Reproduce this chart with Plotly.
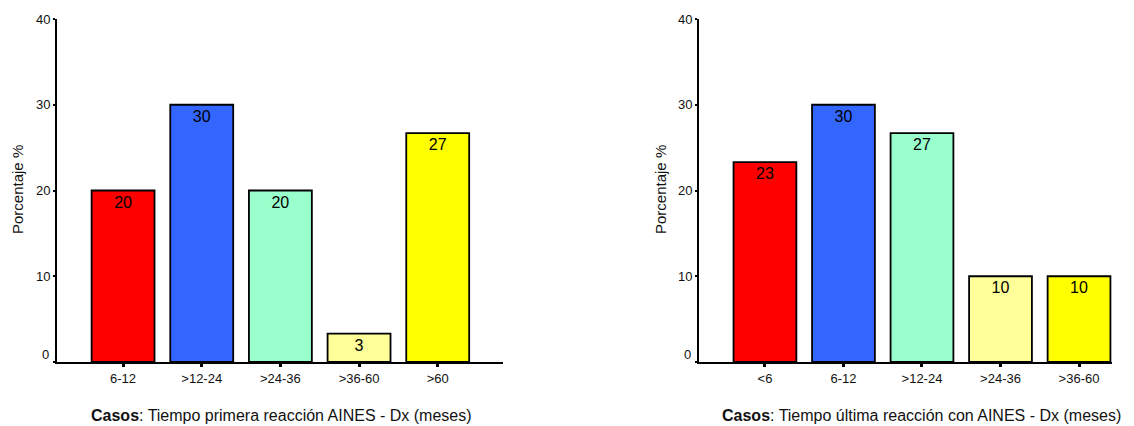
import plotly.graph_objects as go

# Porcentaje de casos por intervalo de tiempo (meses)
cat_primera = ["6-12", ">12-24", ">24-36", ">36-60", ">60"]
pct_primera = [20.0, 30.0, 20.0, 3.3, 26.7]

cat_ultima = ["<6", "6-12", ">12-24", ">24-36", ">36-60"]
pct_ultima = [23.3, 30.0, 26.7, 10.0, 10.0]

colores = ["#FF0000", "#3366FF", "#99FFCC", "#FFFF99", "#FFFF00"]

y_ticks = [0, 10, 20, 30, 40]

titulo_primera = "<b>Casos</b>: Tiempo primera reacción AINES - Dx (meses)"
titulo_ultima = "<b>Casos</b>: Tiempo última reacción con AINES - Dx (meses)"
titulo_y = "Porcentaje %"

FONT = "Arial, 'Liberation Sans', sans-serif"

fig = go.Figure()

for cats, vals, xa, ya in [
    (cat_primera, pct_primera, "x", "y"),
    (cat_ultima, pct_ultima, "x2", "y2"),
]:
    fig.add_trace(go.Bar(
        x=cats, y=vals, xaxis=xa, yaxis=ya,
        marker=dict(color=colores, line=dict(color="black", width=1.8)),
        texttemplate="%{y:.0f}", textposition="inside",
        insidetextanchor="end", textangle=0,
        textfont=dict(family=FONT, size=16, color="black"),
        hoverinfo="skip", showlegend=False,
    ))

y_bottom = (426 - 362) / 426
y_top = (426 - 19) / 426

xaxis_common = dict(
    type="category", showline=True, linecolor="black", linewidth=2,
    ticks="outside", ticklen=3, tickwidth=3, tickcolor="black",
    showgrid=False, zeroline=False, automargin=False,
    tickfont=dict(family=FONT, size=13, color="#111"),
    fixedrange=True,
)
yaxis_common = dict(
    range=[0, 40], tickvals=y_ticks,
    ticktext=["" if v == 0 else str(v) for v in y_ticks],
    showline=True, linecolor="black", linewidth=2,
    ticks="outside", ticklen=2, tickwidth=2, tickcolor="black",
    showgrid=False, zeroline=False, automargin=False,
    tickfont=dict(family=FONT, size=13, color="#111"),
    fixedrange=True,
)

fig.update_layout(
    width=1134, height=426,
    margin=dict(l=0, r=0, t=0, b=0),
    paper_bgcolor="white", plot_bgcolor="white",
    bargap=0.2,
    font=dict(family=FONT, color="#111"),
    xaxis=dict(xaxis_common, domain=[57 / 1134, 503 / 1134],
               range=[-0.84, 4.83], anchor="y"),
    yaxis=dict(yaxis_common, domain=[y_bottom, y_top], anchor="x"),
    xaxis2=dict(xaxis_common, domain=[699 / 1134, 1112 / 1134],
                range=[-0.84, 4.42], anchor="y2"),
    yaxis2=dict(yaxis_common, domain=[y_bottom, y_top], anchor="x2"),
)

anns = []
for xa, ya, titulo, tx, yx in [
    ("x", "y", titulo_primera, 281, 17),
    ("x2", "y2", titulo_ultima, 921, 660),
]:
    # etiqueta del cero, algo elevada sobre el eje
    anns.append(dict(text="0", xref=f"{xa} domain", yref=ya, x=0, y=0,
                     xanchor="right", yanchor="middle", xshift=-6, yshift=8,
                     showarrow=False, font=dict(family=FONT, size=13, color="#111")))
    anns.append(dict(text=titulo, xref="paper", yref="paper",
                     x=tx / 1134, y=(426 - 415) / 426,
                     xanchor="center", yanchor="middle", showarrow=False,
                     font=dict(family=FONT, size=16, color="#111")))
    anns.append(dict(text=titulo_y, xref="paper", yref="paper",
                     x=yx / 1134, y=(426 - 190) / 426, textangle=-90,
                     xanchor="center", yanchor="middle", showarrow=False,
                     font=dict(family=FONT, size=15, color="#111")))

fig.update_layout(annotations=anns)

fig.write_html("out.html", config=dict(displayModeBar=False))
